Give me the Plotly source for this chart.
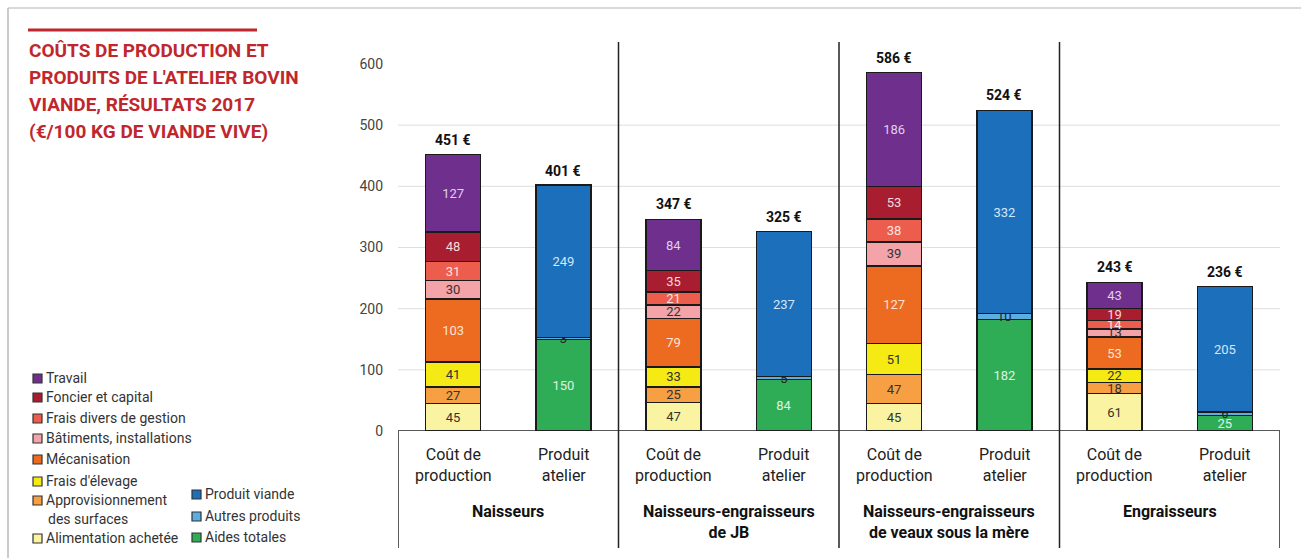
import plotly.graph_objects as go

# ---- Data (€/100 kg de viande vive) ----
groups = ["Naisseurs", "Naisseurs-engraisseurs<br>de JB",
          "Naisseurs-engraisseurs<br>de veaux sous la mère", "Engraisseurs"]
bar_labels = ["Coût de<br>production", "Produit<br>atelier"]

# cost components (bottom to top)
alimentation = [45, 47, 45, 61]
approvisionnement = [27, 25, 47, 18]
frais_elevage = [41, 33, 51, 22]
mecanisation = [103, 79, 127, 53]
batiments = [30, 22, 39, 13]
frais_divers = [31, 21, 38, 14]
foncier = [48, 35, 53, 19]
travail = [127, 84, 186, 43]

# product components (bottom to top)
aides = [150, 84, 182, 25]
autres_produits = [3, 5, 10, 6]
produit_viande = [249, 237, 332, 205]

cost_totals = [451, 347, 586, 243]
product_totals = [401, 325, 524, 236]

# ---- Layout geometry ----
W, H = 1301, 558
ML, MR, MT, MB = 398, 21, 64, 127
PW, PH = W - ML - MR, H - MT - MB

def px(x):
    return (x - ML) / PW

def py(y):
    return (H - MB - y) / PH

FONT = "Roboto, sans-serif"
RED = "#c0272d"
OUTLINE = dict(color="#1a1a1a", width=1.5)

cost_x = [0, 2, 4, 6]
prod_x = [1, 3, 5, 7]

fig = go.Figure()

cost_series = [
    ("Alimentation achetée", alimentation, "#faf3a2", "#333333"),
    ("Approvisionnement des surfaces", approvisionnement, "#f6a043", "#333333"),
    ("Frais d'élevage", frais_elevage, "#f5ea14", "#333333"),
    ("Mécanisation", mecanisation, "#ec6b20", "#fbe3d3"),
    ("Bâtiments, installations", batiments, "#f4a3a8", "#333333"),
    ("Frais divers de gestion", frais_divers, "#ec5d4d", "#fde3df"),
    ("Foncier et capital", foncier, "#a81d2f", "#f6dadd"),
    ("Travail", travail, "#6e2f8d", "#e0d0ec"),
]
prod_series = [
    ("Aides totales", aides, "#2fad56", "#dff3e5"),
    ("Autres produits", autres_produits, "#5aaee0", "#222222"),
    ("Produit viande", produit_viande, "#1c6fba", "#d5e6f6"),
]

for xs, series in ((cost_x, cost_series), (prod_x, prod_series)):
    for name, vals, color, tcolor in series:
        fig.add_trace(go.Bar(
            x=xs, y=vals, name=name, width=0.5,
            marker=dict(color=color, line=OUTLINE),
            text=[str(v) for v in vals], textposition="inside",
            insidetextanchor="middle", textangle=0,
            textfont=dict(family=FONT, size=13, color=tcolor),
            showlegend=False,
        ))

annotations = []
shapes = []

# totals above bars
for xs, totals in ((cost_x, cost_totals), (prod_x, product_totals)):
    for x, t in zip(xs, totals):
        annotations.append(dict(
            x=x, y=t, xref="x", yref="y", text=f"<b>{t} €</b>",
            showarrow=False, yanchor="bottom", yshift=5,
            font=dict(family=FONT, size=14, color="#111111")))

# gridlines
for v in [100, 200, 300, 400, 500]:
    shapes.append(dict(type="line", xref="paper", yref="y", x0=0, x1=1,
                       y0=v, y1=v, line=dict(color="#dedede", width=1),
                       layer="below"))

# category box and separators
shapes.append(dict(type="line", xref="paper", yref="y", x0=0, x1=1, y0=0, y1=0,
                   line=dict(color="#222222", width=1.5)))
for xs in [-0.5, 7.5]:
    shapes.append(dict(type="line", xref="x", yref="paper", x0=xs, x1=xs,
                       y0=py(548), y1=0, line=dict(color="#222222", width=1.5)))
for xs in [1.5, 3.5, 5.5]:
    shapes.append(dict(type="line", xref="x", yref="paper", x0=xs, x1=xs,
                       y0=py(548), y1=py(42), line=dict(color="#222222", width=1.5)))

# bar and group labels under the axis
for i in range(4):
    for j, lab in enumerate(bar_labels):
        annotations.append(dict(
            x=2 * i + j, y=py(465), xref="x", yref="paper", text=lab,
            showarrow=False, yanchor="middle",
            font=dict(family=FONT, size=16, color="#222222")))
    annotations.append(dict(
        x=2 * i + 0.5, y=py(500), xref="x", yref="paper",
        text=f"<b>{groups[i]}</b>", showarrow=False, yanchor="top",
        font=dict(family=FONT, size=16, color="#111111")))

# title
shapes.append(dict(type="line", xref="paper", yref="paper",
                   x0=px(28), x1=px(257), y0=py(30), y1=py(30),
                   line=dict(color=RED, width=3)))
title_lines = ["COÛTS DE PRODUCTION ET", "PRODUITS DE L'ATELIER BOVIN",
               "VIANDE, RÉSULTATS 2017", "(€/100 KG DE VIANDE VIVE)"]
for k, line in enumerate(title_lines):
    annotations.append(dict(
        x=px(27), y=py(50 + 27.3 * k), xref="paper", yref="paper",
        text=f"<b>{line}</b>", showarrow=False, xanchor="left", yanchor="middle",
        font=dict(family=FONT, size=19, color=RED)))

# legend drawn as swatches + labels
legend_col1 = [
    ("Travail", "#6e2f8d", 378),
    ("Foncier et capital", "#a81d2f", 397),
    ("Frais divers de gestion", "#ec5d4d", 418),
    ("Bâtiments, installations", "#f4a3a8", 438),
    ("Mécanisation", "#ec6b20", 459),
    ("Frais d'élevage", "#f5ea14", 481),
    ("Approvisionnement", "#f6a043", 500),
    ("Alimentation achetée", "#faf3a2", 538),
]
legend_col2 = [
    ("Produit viande", "#1c6fba", 494),
    ("Autres produits", "#5aaee0", 516),
    ("Aides totales", "#2fad56", 537),
]
LEG_FONT = dict(family=FONT, size=14, color="#333333")
for items, sx in ((legend_col1, 33), (legend_col2, 192)):
    for label, color, yc in items:
        shapes.append(dict(type="rect", xref="paper", yref="paper",
                           x0=px(sx), x1=px(sx + 9), y0=py(yc + 5), y1=py(yc - 4),
                           fillcolor=color, line=dict(color="#333333", width=1.2)))
        annotations.append(dict(
            x=px(sx + 11), y=py(yc), xref="paper", yref="paper", text=label,
            showarrow=False, xanchor="left", yanchor="middle", font=LEG_FONT))
annotations.append(dict(
    x=px(46), y=py(519), xref="paper", yref="paper", text="des surfaces",
    showarrow=False, xanchor="left", yanchor="middle", font=LEG_FONT))

# outer frame lines
shapes.append(dict(type="line", xref="paper", yref="paper", x0=px(8), x1=px(W),
                   y0=py(8), y1=py(8), line=dict(color="#cccccc", width=1.5)))
shapes.append(dict(type="line", xref="paper", yref="paper", x0=px(8), x1=px(8),
                   y0=py(8), y1=py(H), line=dict(color="#bbbbbb", width=1.5)))

fig.update_layout(
    width=W, height=H,
    margin=dict(l=ML, r=MR, t=MT, b=MB, pad=0),
    paper_bgcolor="white", plot_bgcolor="white",
    barmode="stack",
    uniformtext=dict(minsize=13, mode="show"),
    xaxis=dict(range=[-0.5, 7.5], showticklabels=False, showgrid=False,
               zeroline=False, showline=False, fixedrange=True),
    yaxis=dict(range=[0, 600], tickvals=[0, 100, 200, 300, 400, 500, 600],
               showgrid=False, zeroline=False, showline=False, ticks="",
               ticklabelstandoff=14,
               tickfont=dict(family=FONT, size=14, color="#444444")),
    annotations=annotations, shapes=shapes,
    font=dict(family=FONT),
)

fig.write_html("out.html")
